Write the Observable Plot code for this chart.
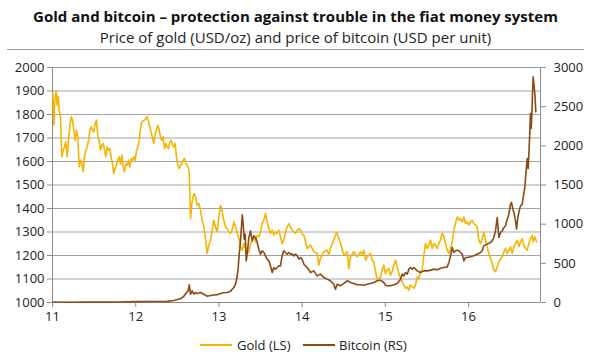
<!DOCTYPE html>
<html>
<head>
<meta charset="utf-8">
<script src="https://cdn.jsdelivr.net/npm/d3@7"></script>
<script src="https://cdn.jsdelivr.net/npm/@observablehq/plot@0.6"></script>
<style>
  html, body { margin: 0; padding: 0; background: #fff; }
  body { width: 591px; height: 358px; position: relative; overflow: hidden; font-family: "Open Sans", "Noto Sans", sans-serif; color: #111; }
  #title { position: absolute; top: 6px; left: 0; width: 591px; text-align: center; font-weight: 700; font-size: 15px; letter-spacing: 0px; line-height: 20px; }
  #subtitle { position: absolute; top: 27px; left: 0; width: 591px; text-align: center; font-size: 15px; letter-spacing: 0px; line-height: 21px; color: #222; }
  #rule { position: absolute; top: 49px; left: 7px; width: 577px; height: 0; border-top: 1.5px solid #9a9a9a; }
  #chart { position: absolute; top: 55px; left: 0; }
  #legend { position: absolute; top: 335px; left: 0; width: 591px; height: 20px; font-size: 13px; color: #222; }
  .sw { position: absolute; top: 9px; height: 0; border-top: 2px solid; width: 32px; }
  .lt { position: absolute; top: 0; line-height: 20px; }
</style>
</head>
<body>
<div id="title">Gold and bitcoin – protection against trouble in the fiat money system</div>
<div id="subtitle">Price of gold (USD/oz) and price of bitcoin (USD per unit)</div>
<div id="rule"></div>
<div id="chart"></div>
<div id="legend">
  <span class="sw" style="left:200px;border-color:#F5B400"></span><span class="lt" style="left:237px">Gold (LS)</span>
  <span class="sw" style="left:303px;border-color:#8A4A16"></span><span class="lt" style="left:339px">Bitcoin (RS)</span>
</div>
<script>
const xTicks = [11, 12, 13, 14, 15, 16];
const goldTicks = [1000, 1100, 1200, 1300, 1400, 1500, 1600, 1700, 1800, 1900, 2000];
const btcTicks = [0, 500, 1000, 1500, 2000, 2500, 3000];

const goldX = [11.004,11.016,11.028,11.044,11.056,11.068,11.080,11.096,11.112,11.128,11.144,11.160,11.176,11.192,11.208,11.224,11.240,11.256,11.272,11.288,11.304,11.321,11.337,11.353,11.369,11.385,11.401,11.417,11.433,11.449,11.465,11.481,11.497,11.513,11.529,11.545,11.561,11.577,11.593,11.609,11.625,11.641,11.657,11.673,11.689,11.705,11.721,11.737,11.753,11.769,11.785,11.801,11.817,11.833,11.849,11.865,11.881,11.897,11.913,11.929,11.946,11.962,11.978,11.994,12.010,12.026,12.042,12.058,12.074,12.090,12.106,12.122,12.138,12.154,12.170,12.186,12.202,12.218,12.234,12.250,12.266,12.282,12.298,12.314,12.330,12.346,12.362,12.378,12.394,12.410,12.426,12.442,12.458,12.474,12.490,12.506,12.522,12.538,12.554,12.571,12.587,12.603,12.619,12.635,12.643,12.651,12.659,12.675,12.699,12.719,12.739,12.759,12.779,12.799,12.819,12.839,12.859,12.879,12.899,12.919,12.939,12.959,12.979,12.999,13.019,13.039,13.059,13.079,13.099,13.119,13.139,13.159,13.179,13.200,13.220,13.240,13.260,13.280,13.300,13.320,13.340,13.360,13.380,13.400,13.420,13.440,13.460,13.480,13.500,13.520,13.540,13.560,13.580,13.600,13.620,13.641,13.660,13.680,13.700,13.720,13.740,13.760,13.780,13.800,13.821,13.841,13.861,13.881,13.901,13.921,13.941,13.961,13.981,14.001,14.021,14.061,14.101,14.141,14.181,14.200,14.220,14.260,14.300,14.320,14.340,14.380,14.413,14.441,14.461,14.501,14.541,14.561,14.581,14.621,14.662,14.702,14.722,14.742,14.762,14.782,14.822,14.842,14.862,14.882,14.902,14.922,14.942,14.962,14.982,15.002,15.022,15.042,15.062,15.082,15.103,15.123,15.143,15.163,15.183,15.203,15.223,15.243,15.263,15.283,15.303,15.323,15.343,15.363,15.383,15.403,15.423,15.443,15.463,15.483,15.503,15.523,15.543,15.563,15.583,15.603,15.623,15.643,15.663,15.683,15.703,15.724,15.744,15.764,15.784,15.804,15.824,15.844,15.864,15.884,15.904,15.924,15.944,15.964,15.984,16.004,16.024,16.044,16.064,16.084,16.103,16.124,16.144,16.164,16.184,16.204,16.224,16.244,16.264,16.284,16.304,16.324,16.345,16.365,16.385,16.405,16.425,16.445,16.465,16.485,16.505,16.525,16.545,16.565,16.585,16.605,16.625,16.645,16.665,16.685,16.705,16.725,16.745,16.765,16.777,16.797,16.817];
const goldV = [1890,1755,1860,1900,1840,1875,1820,1790,1620,1648,1662,1684,1620,1690,1748,1790,1776,1733,1690,1733,1705,1577,1606,1590,1556,1620,1648,1662,1690,1733,1748,1733,1726,1762,1776,1705,1690,1648,1670,1677,1648,1620,1662,1648,1655,1620,1590,1549,1570,1584,1606,1620,1590,1627,1577,1556,1590,1584,1606,1577,1613,1606,1620,1606,1648,1662,1690,1740,1769,1773,1776,1783,1790,1769,1748,1726,1698,1677,1719,1733,1755,1733,1705,1690,1705,1655,1677,1662,1655,1684,1690,1670,1662,1677,1620,1584,1570,1584,1590,1606,1613,1590,1584,1570,1549,1464,1357,1421,1464,1450,1414,1421,1393,1350,1322,1272,1209,1244,1265,1308,1350,1322,1300,1364,1414,1386,1350,1322,1315,1300,1294,1308,1343,1322,1294,1272,1237,1223,1251,1230,1209,1216,1251,1265,1280,1258,1286,1280,1300,1336,1350,1379,1343,1315,1294,1308,1286,1300,1294,1308,1280,1251,1265,1300,1322,1336,1322,1308,1300,1294,1308,1315,1308,1290,1286,1230,1244,1216,1209,1159,1187,1216,1223,1201,1230,1265,1300,1272,1251,1201,1216,1145,1194,1216,1194,1216,1201,1223,1180,1194,1209,1180,1173,1131,1095,1102,1109,1138,1159,1123,1138,1145,1116,1131,1159,1180,1152,1123,1102,1088,1074,1060,1067,1053,1074,1067,1060,1074,1109,1102,1131,1138,1201,1251,1230,1244,1265,1230,1251,1244,1230,1251,1265,1294,1280,1251,1223,1209,1230,1258,1308,1336,1364,1350,1357,1343,1364,1336,1343,1329,1343,1350,1336,1329,1322,1265,1251,1272,1300,1265,1237,1209,1187,1166,1138,1131,1152,1173,1187,1194,1216,1230,1209,1223,1237,1209,1237,1251,1265,1237,1258,1272,1244,1230,1223,1251,1272,1286,1258,1280,1258];

const btcX = [11.004,11.2,11.4,11.6,11.8,12.0,12.2,12.378,12.458,12.538,12.579,12.611,12.631,12.643,12.659,12.679,12.699,12.719,12.739,12.779,12.819,12.859,12.899,12.939,12.979,13.019,13.059,13.099,13.139,13.179,13.200,13.220,13.232,13.244,13.256,13.268,13.280,13.292,13.304,13.316,13.328,13.340,13.360,13.380,13.400,13.420,13.440,13.460,13.480,13.500,13.520,13.540,13.560,13.580,13.600,13.620,13.641,13.660,13.680,13.700,13.720,13.740,13.760,13.780,13.800,13.821,13.841,13.861,13.881,13.901,13.921,13.941,13.961,13.981,14.001,14.021,14.061,14.101,14.141,14.181,14.220,14.260,14.300,14.340,14.380,14.401,14.421,14.461,14.501,14.541,14.581,14.621,14.662,14.702,14.742,14.782,14.822,14.862,14.902,14.942,14.982,15.002,15.022,15.062,15.103,15.143,15.183,15.203,15.223,15.243,15.263,15.283,15.303,15.323,15.343,15.383,15.423,15.463,15.503,15.543,15.583,15.623,15.663,15.703,15.744,15.764,15.784,15.804,15.824,15.844,15.864,15.884,15.904,15.924,15.944,15.964,15.984,16.024,16.064,16.103,16.144,16.164,16.184,16.224,16.264,16.284,16.304,16.324,16.345,16.365,16.385,16.405,16.425,16.445,16.465,16.485,16.505,16.517,16.533,16.545,16.565,16.577,16.593,16.609,16.625,16.645,16.657,16.677,16.693,16.705,16.717,16.729,16.737,16.745,16.753,16.761,16.769,16.777,16.789,16.797,16.809];
const btcV = [6,3,5,5,7,11,12,14,25,47,80,128,149,225,106,149,106,128,115,128,106,80,90,95,100,115,125,128,145,191,234,340,447,617,745,915,1119,1000,808,872,532,617,830,915,787,851,830,766,681,617,660,638,596,553,532,468,383,447,426,447,468,468,596,660,638,617,638,617,617,596,617,596,553,575,550,489,447,383,404,340,362,319,298,277,234,170,234,213,243,277,255,243,226,226,221,234,243,255,277,285,255,221,213,213,226,243,298,362,340,383,362,426,447,426,447,404,383,404,404,413,426,417,438,447,455,511,596,702,638,660,668,660,638,617,532,575,575,583,596,617,638,660,723,745,766,787,830,915,1085,830,894,915,957,979,1064,1128,1255,1277,1191,1149,1043,936,1085,1170,1234,1255,1340,1477,1690,1838,1710,1987,2200,2413,2221,2391,2668,2880,2753,2668,2434];

const gold = goldX.map((x, i) => ({x, v: goldV[i]}));
const btc = btcX.map((x, i) => ({x, v: btcV[i]}));

const GOLD = "#F5B400", BTC = "#8A4A16", GRID = "#a3a3a3", AXIS = "#8c8c8c";
const toLeft = b => 1000 + b / 3;

const chart = Plot.plot({
  width: 591,
  height: 270,
  marginLeft: 52,
  marginRight: 51,
  marginTop: 12,
  marginBottom: 23,
  style: {fontFamily: "'Open Sans', 'Noto Sans', sans-serif", fontSize: "13px", color: "#222", background: "transparent"},
  x: {domain: [11, 16.865]},
  y: {domain: [1000, 2000]},
  marks: [
    Plot.ruleY(goldTicks, {stroke: GRID, strokeWidth: 1}),
    Plot.ruleX([11, 16.865], {stroke: AXIS, strokeWidth: 1}),
    Plot.ruleY([1000], {stroke: AXIS, strokeWidth: 1}),
    Plot.line(gold, {x: "x", y: "v", stroke: GOLD, strokeWidth: 1.6}),
    Plot.line(btc, {x: "x", y: d => toLeft(d.v), stroke: BTC, strokeWidth: 1.6}),
    Plot.axisY(goldTicks, {anchor: "left", tickSize: 5, tickPadding: 3, label: null, stroke: AXIS, fill: "#222", tickFormat: d => String(d)}),
    Plot.axisY(btcTicks.map(toLeft), {anchor: "right", tickSize: 5, tickPadding: 8, label: null, stroke: AXIS, fill: "#222", tickFormat: d => String(Math.round((d - 1000) * 3))}),
    Plot.axisX(xTicks, {tickSize: 5, tickPadding: 4, label: null, stroke: AXIS, fill: "#222", tickFormat: d => String(d)})
  ]
});
document.getElementById("chart").appendChild(chart);
</script>
</body>
</html>
